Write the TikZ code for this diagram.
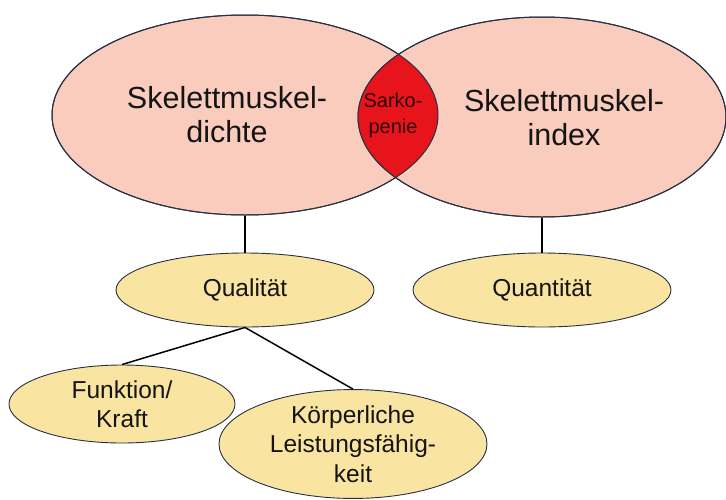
\documentclass[tikz,border=0pt]{standalone}
\usepackage{fontspec}
\setmainfont{Liberation Sans}
\usetikzlibrary{shapes.geometric}
\definecolor{pinkfill}{RGB}{249,204,190}
\definecolor{lensred}{RGB}{232,20,28}
\definecolor{yellowfill}{RGB}{249,228,162}
\definecolor{edgecol}{RGB}{40,48,66}
\definecolor{txt}{RGB}{20,20,20}
\begin{document}
\begin{tikzpicture}[x=1pt,y=-1pt,
  bigell/.style={ellipse,draw=edgecol,fill=pinkfill,line width=1pt,inner sep=0pt},
  smallell/.style={ellipse,draw=edgecol,fill=yellowfill,line width=0.9pt,inner sep=0pt},
  bigtxt/.style={align=center,text=txt,font=\fontsize{30.5}{34}\selectfont},
  smalltxt/.style={align=center,text=txt,font=\fontsize{24.5}{29.5}\selectfont},
  conn/.style={draw=black,line width=1.5pt}]
\useasboundingbox (0,0) rectangle (726,499);
% big ellipses
\node[bigell,minimum width=386pt,minimum height=200pt] (dichte) at (245,115) {};
\node[bigell,minimum width=368pt,minimum height=200pt] (index) at (542,117) {};
% lens
\begin{scope}
  \clip (245,115) ellipse [x radius=193pt, y radius=100pt];
  \fill[lensred] (542,117) ellipse [x radius=184pt, y radius=100pt];
\end{scope}
\draw[edgecol,line width=1pt] (245,115) ellipse [x radius=193pt, y radius=100pt];
\draw[edgecol,line width=1pt] (542,117) ellipse [x radius=184pt, y radius=100pt];
% texts
\node[bigtxt] (tdichte) at (227,115) {Skelettmuskel-\\dichte};
\node[bigtxt] (tindex) at (564,118) {Skelettmuskel-\\index};
\node[align=center,text={rgb,255:red,45;green,5;blue,8},font=\fontsize{20}{26}\selectfont] (sarko) at (393,115) {Sarko-\\penie};
% small ellipses
\node[smallell,smalltxt,minimum width=258pt,minimum height=74pt] (qual) at (245,290) {Qualität};
\node[smallell,smalltxt,minimum width=258pt,minimum height=74pt] (quant) at (542,290) {Quantität};
\node[smallell,smalltxt,minimum width=226pt,minimum height=78pt] (funk) at (122,404) {Funktion/\\Kraft};
\node[smallell,smalltxt,minimum width=268pt,minimum height=106pt] (koerp) at (353,444) {Körperliche\\Leistungsfähig-\\keit};
% connectors
\draw[conn] (dichte.south) -- (qual.north);
\draw[conn] (index.south) -- (quant.north);
\draw[conn] (qual.south) -- (funk.north);
\draw[conn] (qual.south) -- (koerp.north);
\end{tikzpicture}
\end{document}
